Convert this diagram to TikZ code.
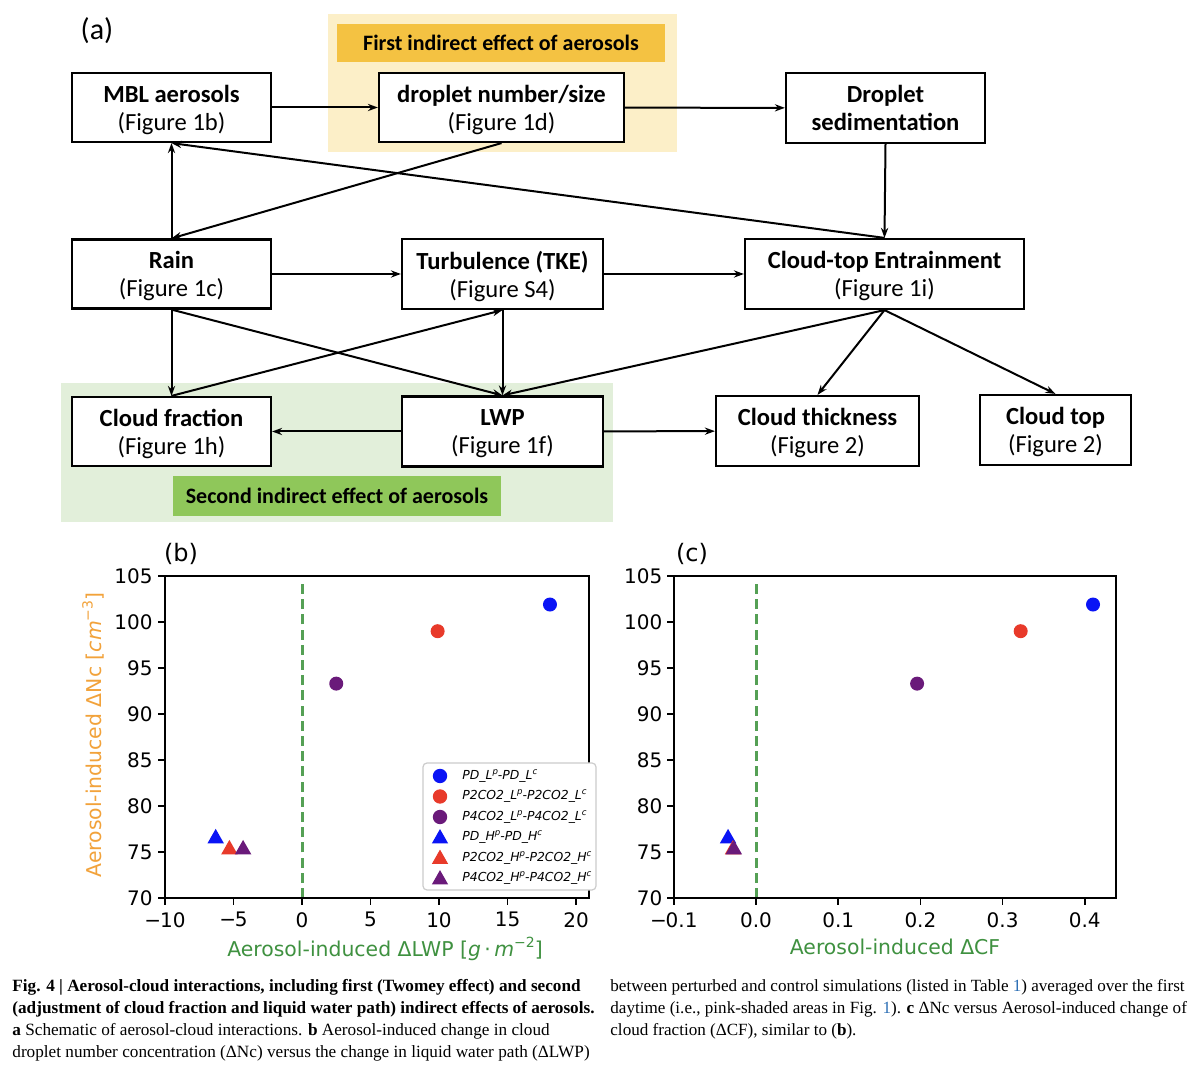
\documentclass[tikz,border=0pt]{standalone}
\usepackage{fontspec}
\setmainfont{Liberation Serif}
\newfontfamily\boxfont{Carlito}
\newfontfamily\plotfont{DejaVu Sans}
\usetikzlibrary{arrows.meta,positioning,calc}
\definecolor{paleyellow}{HTML}{FCEFC8}
\definecolor{gold}{HTML}{F4C242}
\definecolor{palegreen}{HTML}{E2EFDA}
\definecolor{leafgreen}{HTML}{8FC75A}
\definecolor{ptblue}{HTML}{0A14F5}
\definecolor{ptred}{HTML}{E83A2A}
\definecolor{ptpurple}{HTML}{6A1A7A}
\definecolor{dashgreen}{HTML}{55A055}
\definecolor{labgreen}{HTML}{3F9140}
\definecolor{laborange}{HTML}{F2A23A}
\definecolor{linkblue}{HTML}{2C6FB5}
\newcommand\legsup[1]{\raisebox{2.5pt}{\fontsize{4.3}{4.5}\selectfont #1}}
\newcommand\labsup[1]{\raisebox{4.2pt}{\fontsize{7}{8}\selectfont #1}}
\newcommand\tri[2]{\fill[#1] (#2) ++(0pt,4.2pt) -- ++(-4.1pt,-7.2pt) -- ++(8.2pt,0pt) -- cycle;}

\begin{document}
\begin{tikzpicture}[x=0.5pt,y=-0.5pt,
  box/.style={draw, line width=1.1pt, fill=white, align=center, inner sep=0pt,
    font=\boxfont\fontsize{12.3}{14}\selectfont, text depth=0pt},
  arr/.style={line width=1pt, -{Stealth[length=5pt,width=3.6pt]}},
  band/.style={inner sep=0pt, font=\boxfont\bfseries\fontsize{11}{13}\selectfont},
  tick/.style={inner sep=0pt, font=\plotfont\fontsize{10}{12}\selectfont},
  leg/.style={anchor=west, inner sep=0pt, font=\plotfont\itshape\fontsize{6.2}{7}\selectfont},
  ]
\useasboundingbox (0,0) rectangle (1200,1068);
\fill[white] (0,0) rectangle (1200,1068);

% (a) schematic
\node[font=\boxfont\fontsize{15}{17}\selectfont] (lbla) at (97,31) {(a)};
\fill[paleyellow] (328,14) rectangle (677,152);
\fill[palegreen] (61,383) rectangle (613,522);
\node[band, fill=gold, minimum width=164pt, minimum height=19pt] (first) at (501,43) {First indirect effect of aerosols};
\node[band, fill=leafgreen, minimum width=164pt, minimum height=20pt] (second) at (337,496) {Second indirect effect of aerosols};

\node[box, minimum width=99.5pt, minimum height=34.5pt] (mbl) at (171.5,107.5) {\textbf{MBL aerosols}\\(Figure 1b)};
\node[box, minimum width=122.5pt, minimum height=34.5pt] (drop) at (501.5,107.5) {\textbf{droplet number/size}\\(Figure 1d)};
\node[box, minimum width=99.5pt, minimum height=35pt] (sed) at (885.5,108) {\textbf{Droplet}\\\textbf{sedimentation}};
\node[box, minimum width=99.5pt, minimum height=34.5pt] (rain) at (171.5,274) {\textbf{Rain}\\(Figure 1c)};
\node[box, minimum width=100.5pt, minimum height=35pt] (turb) at (502.5,274) {\textbf{Turbulence (TKE)}\\(Figure S4)};
\node[box, minimum width=139.5pt, minimum height=35pt] (ent) at (884.5,274) {\textbf{Cloud-top Entrainment}\\(Figure 1i)};
\node[box, minimum width=99.5pt, minimum height=34.5pt] (cf) at (171.5,431.5) {\textbf{Cloud fraction}\\(Figure 1h)};
\node[box, minimum width=100.5pt, minimum height=35pt] (lwp) at (502.5,431.5) {\textbf{LWP}\\(Figure 1f)};
\node[box, minimum width=101.5pt, minimum height=35pt] (thick) at (817.5,431) {\textbf{Cloud thickness}\\(Figure 2)};
\node[box, minimum width=75.5pt, minimum height=35pt] (ctop) at (1055.5,430) {\textbf{Cloud top}\\(Figure 2)};

\draw[arr] (mbl) -- (drop);
\draw[arr] (drop) -- (sed);
\draw[arr] (sed.south) -- (ent.north);
\draw[arr] (drop.south) -- (rain.north);
\draw[arr] (ent.north) -- (mbl.south);
\draw[arr] (rain.north) -- (mbl.south);
\draw[arr] (rain) -- (turb);
\draw[arr] (turb) -- (ent);
\draw[arr] (rain.south) -- (cf.north);
\draw[arr] (rain.south) -- (lwp.north);
\draw[arr] (cf.north) -- (turb.south);
\draw[arr] (turb.south) -- (lwp.north);
\draw[arr] (ent.south) -- (lwp.north);
\draw[arr] (ent.south) -- (thick.north);
\draw[arr] (ent.south) -- (ctop.north);
\draw[arr] (lwp) -- (cf);
\draw[arr] (lwp) -- (thick);

% (b) Nc vs LWP
\node[font=\plotfont\fontsize{12}{14}\selectfont] (lblb) at (181,554) {(b)};
\begin{scope}[shift={(302,1542)}, x=6.85pt, y=4.6pt]
  \draw[dashgreen, line width=1.5pt, dash pattern=on 5pt off 2.6pt] (0,70) -- (0,104.6);
  \draw[line width=0.8pt] (-10,70) rectangle (20.95,105);
  \foreach \t/\l in {-10/−\kern-0.6pt10,-5/−\kern-0.6pt5,0/0,5/5,10/10,15/15,20/20}{
    \draw[line width=0.8pt] (\t,70) -- ++(0pt,-3.5pt);
    \node[tick, anchor=north] (bx\t) at ([yshift=-7pt]\t,70) {\l};
  }
  \foreach \t in {70,75,...,105}{
    \draw[line width=0.8pt] (-10,\t) -- ++(-3.5pt,0pt);
    \node[tick, anchor=east] (by\t) at ([xshift=-6pt]-10,\t) {\t};
  }
  \fill[ptblue] (18.1,101.9) circle (3.5pt);
  \fill[ptred] (9.9,99.0) circle (3.5pt);
  \fill[ptpurple] (2.5,93.3) circle (3.5pt);
  \tri{ptblue}{-6.3,76.6}
  \tri{ptred}{-5.3,75.4}
  \tri{ptpurple}{-4.3,75.4}
\end{scope}
\node[rotate=90, text=laborange, font=\plotfont\fontsize{10.2}{12}\selectfont] (ylb) at (93,735)
  {Aerosol-induced ΔNc [{\itshape cm}\labsup{−3}]};
\node[text=labgreen, font=\plotfont\fontsize{10.2}{12}\selectfont] (xlb) at (385,949)
  {Aerosol-induced ΔLWP [{\itshape g}\,·\,{\itshape m}\labsup{−2}]};

% legend
\draw[rounded corners=2pt, draw=black!20, fill=white, line width=0.6pt] (423,763) rectangle (596,890);
\fill[ptblue] (440,776) circle (3.6pt);
\fill[ptred] (440,796.5) circle (3.6pt);
\fill[ptpurple] (440,817) circle (3.6pt);
\tri{ptblue}{440,837.5}
\tri{ptred}{440,858}
\tri{ptpurple}{440,878.5}
\node[leg] (leg1) at (462,776) {PD\_L\legsup{p}-PD\_L\legsup{c}};
\node[leg] (leg2) at (462,796.5) {P2CO2\_L\legsup{p}-P2CO2\_L\legsup{c}};
\node[leg] (leg3) at (462,817) {P4CO2\_L\legsup{p}-P4CO2\_L\legsup{c}};
\node[leg] (leg4) at (462,837.5) {PD\_H\legsup{p}-PD\_H\legsup{c}};
\node[leg] (leg5) at (462,858) {P2CO2\_H\legsup{p}-P2CO2\_H\legsup{c}};
\node[leg] (leg6) at (462,878.5) {P4CO2\_H\legsup{p}-P4CO2\_H\legsup{c}};

% (c) Nc vs CF
\node[font=\plotfont\fontsize{12}{14}\selectfont] (lblc) at (692,554) {(c)};
\begin{scope}[shift={(756,1542)}, x=411pt, y=4.6pt]
  \draw[dashgreen, line width=1.5pt, dash pattern=on 5pt off 2.6pt] (0,70) -- (0,104.6);
  \draw[line width=0.8pt] (-0.1,70) rectangle (0.438,105);
  \foreach \t/\l/\n in {-0.1/−\kern-0.6pt0.1/m1,0/0.0/0,0.1/0.1/1,0.2/0.2/2,0.3/0.3/3,0.4/0.4/4}{
    \draw[line width=0.8pt] (\t,70) -- ++(0pt,-3.5pt);
    \node[tick, anchor=north] (cx\n) at ([yshift=-7pt]\t,70) {\l};
  }
  \foreach \t in {70,75,...,105}{
    \draw[line width=0.8pt] (-0.1,\t) -- ++(-3.5pt,0pt);
    \node[tick, anchor=east] (cy\t) at ([xshift=-5.5pt]-0.1,\t) {\t};
  }
  \fill[ptblue] (0.410,101.9) circle (3.5pt);
  \fill[ptred] (0.322,99.0) circle (3.5pt);
  \fill[ptpurple] (0.196,93.3) circle (3.5pt);
  \tri{ptblue}{-0.034,76.6}
  \tri{ptred}{-0.028,75.4}
  \tri{ptpurple}{-0.027,75.4}
\end{scope}
\node[text=labgreen, font=\plotfont\fontsize{10.2}{12}\selectfont] (xlc) at (895,947) {Aerosol-induced ΔCF};

% caption
\node[anchor=north west, align=left, inner sep=0pt, font=\fontsize{8.6}{11}\selectfont] (capl) at (12,979)
  {\textbf{Fig. 4 | Aerosol-cloud interactions, including first (Twomey effect) and second}\\
   \textbf{(adjustment of cloud fraction and liquid water path) indirect effects of aerosols.}\\
   \textbf{a} Schematic of aerosol-cloud interactions. \textbf{b} Aerosol-induced change in cloud\\
   droplet number concentration (ΔNc) versus the change in liquid water path (ΔLWP)};
\node[anchor=north west, align=left, inner sep=0pt, font=\fontsize{8.55}{11}\selectfont] (capr) at (610,979)
  {between perturbed and control simulations (listed in Table \textcolor{linkblue}{1}) averaged over the first\\
   daytime (i.e., pink-shaded areas in Fig. \textcolor{linkblue}{1}). \textbf{c} ΔNc versus Aerosol-induced change of\\
   cloud fraction (ΔCF), similar to (\textbf{b}).};
\end{tikzpicture}
\end{document}
